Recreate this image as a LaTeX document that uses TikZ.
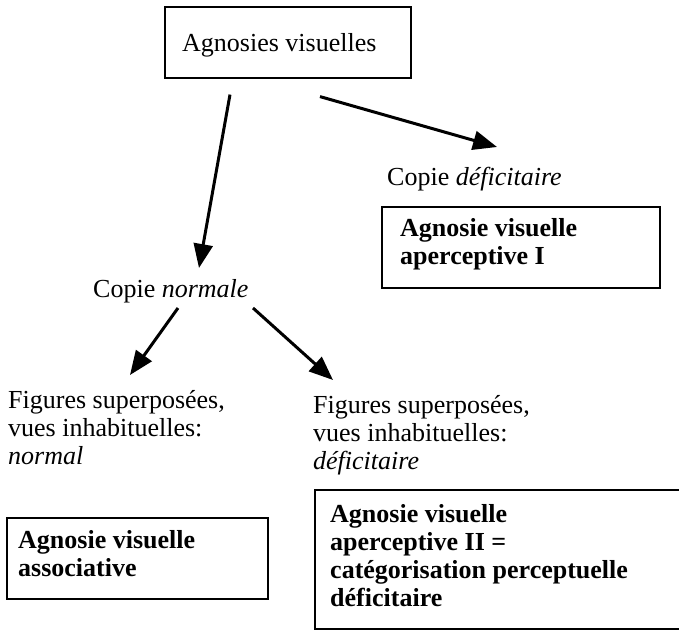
\documentclass[tikz,border=0pt]{standalone}
\usepackage{fontspec}
\setmainfont{Liberation Serif}
\usetikzlibrary{arrows.meta}
\tikzset{
  txt/.style={anchor=base west, inner sep=0pt, align=left, font=\fontsize{26}{28}\selectfont},
  btxt/.style={txt, font=\fontsize{26}{28.3}\selectfont\bfseries},
  boxshape/.style={draw, line width=1.6pt, anchor=north west, inner sep=0pt},
  arr/.style={line width=3pt, -{Triangle[length=24pt,width=19pt]}},
}
\begin{document}
\begin{tikzpicture}[x=1pt,y=-1pt]
\useasboundingbox (0,0) rectangle (679,634);
% boxes
\node[boxshape, minimum width=246pt, minimum height=71pt] (tb) at (164,6) {};
\node[boxshape, minimum width=278pt, minimum height=81pt] (b1) at (381,206) {};
\node[boxshape, minimum width=261pt, minimum height=81pt] (ba) at (6,517) {};
\coordinate (b2nw) at (315,490);
\coordinate (b2se) at (679,629);
\draw[line width=1.6pt] (b2se |- b2nw) -- (b2nw) |- (b2se);
% texts (base anchor = baseline of the last line)
\node[txt] (tt) at (182,52) {Agnosies visuelles};
\node[txt] (cd) at (387,185) {Copie \textit{déficitaire}};
\node[btxt] (t1) at (400,264.3) {Agnosie visuelle\\aperceptive I};
\node[txt] (cn) at (93,297) {Copie \textit{normale}};
\node[txt] (fl) at (8,464) {Figures superposées,\\vues inhabituelles:\\\textit{normal}};
\node[txt] (fr) at (313,469) {Figures superposées,\\vues inhabituelles:\\\textit{déficitaire}};
\node[btxt] (ta) at (18,576.3) {Agnosie visuelle\\associative};
\node[btxt] (t2) at (330,606.9) {Agnosie visuelle\\aperceptive II =\\catégorisation perceptuelle\\déficitaire};
% arrows
\draw[arr] ([shift={(66,16)}]tb.south west) -- ([shift={(106,-29)}]cn.base west);
\draw[arr] ([shift={(156,18)}]tb.south west) -- ([shift={(110,-38)}]cd.base west);
\draw[arr] ([shift={(85,11)}]cn.base west) -- ([shift={(122,-89)}]fl.base west);
\draw[arr] ([shift={(160,11)}]cn.base west) -- ([shift={(20,-89)}]fr.base west);
\end{tikzpicture}
\end{document}
